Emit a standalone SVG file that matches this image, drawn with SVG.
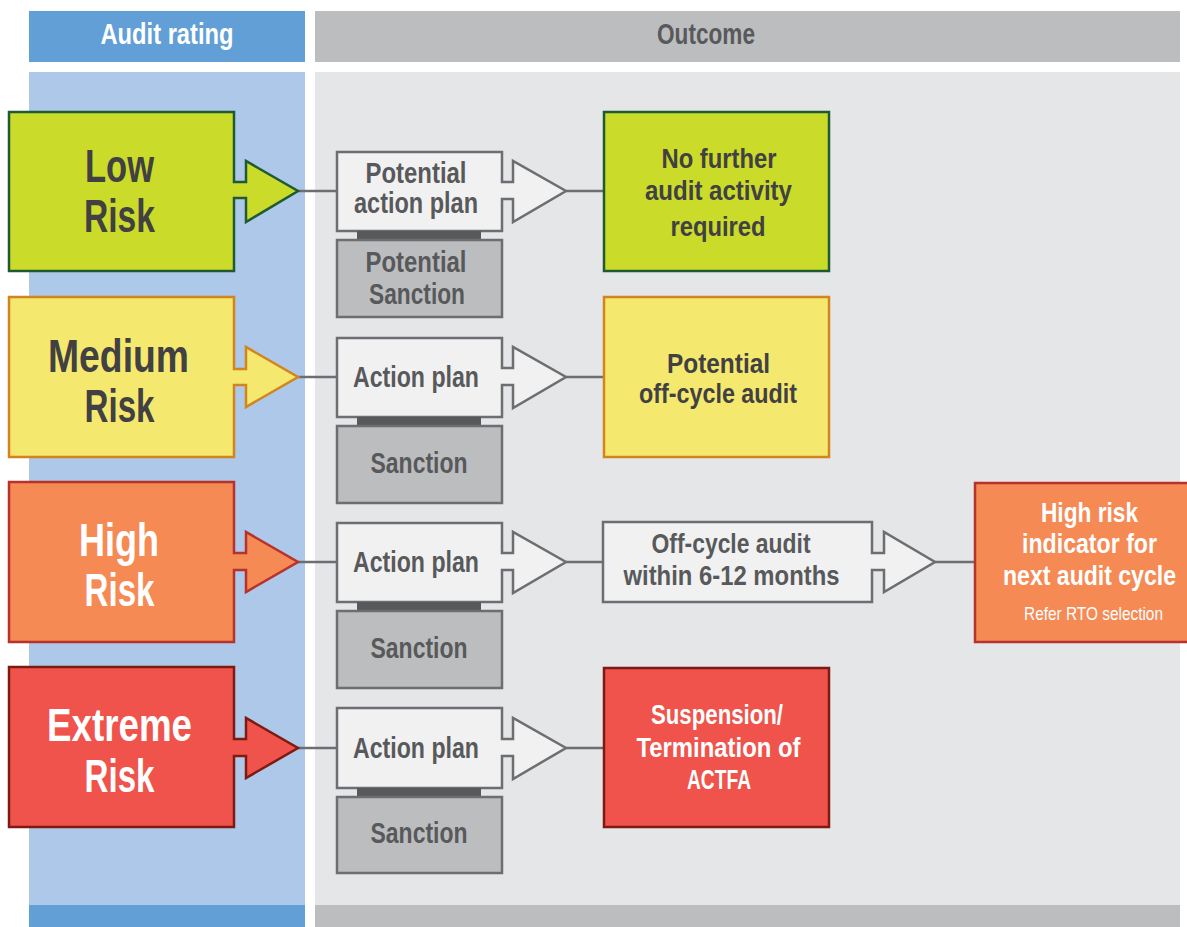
<svg xmlns="http://www.w3.org/2000/svg" width="1187" height="927" viewBox="0 0 1187 927">
<style>
text{font-family:"Liberation Sans",Arial,sans-serif;font-weight:bold;text-anchor:middle}
.big{font-size:47px}
.mid{font-size:30px;fill:#58595b}
.out{font-size:28px}
.dark{fill:#414042}
.white{fill:#ffffff}
.end{text-anchor:end}
.small{font-size:19px;font-weight:normal}
.box{fill:#f1f1f2;stroke:#6d6e71;stroke-width:2.5}
.sanc{fill:#bcbdbf;stroke:#6d6e71;stroke-width:2.5}
.bar{fill:#58595b}
.conn{stroke:#6d6e71;stroke-width:2.5;fill:none}
</style>
<rect x="0" y="0" width="1187" height="927" fill="#ffffff"/>
<g id="background">
<rect x="29" y="11" width="276" height="51" fill="#619fd6"/>
<rect x="315" y="11" width="865" height="51" fill="#bcbdbf"/>
<rect x="29" y="72" width="276" height="833" fill="#adc8e8"/>
<rect x="315" y="72" width="865" height="833" fill="#e5e6e8"/>
<rect x="29" y="905" width="276" height="22" fill="#619fd6"/>
<rect x="315" y="905" width="865" height="22" fill="#bcbdbf"/>
<text x="167" y="44" font-size="29" fill="#ffffff" textLength="133" lengthAdjust="spacingAndGlyphs">Audit rating</text>
<text x="706" y="44" font-size="29" fill="#58595b" textLength="98" lengthAdjust="spacingAndGlyphs">Outcome</text>
</g>
<g id="connectors">
<line class="conn" x1="298" y1="191" x2="337" y2="191"/>
<line class="conn" x1="566" y1="191" x2="603" y2="191"/>
<line class="conn" x1="298" y1="377" x2="337" y2="377"/>
<line class="conn" x1="566" y1="377" x2="603" y2="377"/>
<line class="conn" x1="298" y1="562" x2="337" y2="562"/>
<line class="conn" x1="566" y1="562" x2="603" y2="562"/>
<line class="conn" x1="935" y1="562" x2="975" y2="562"/>
<line class="conn" x1="298" y1="748" x2="337" y2="748"/>
<line class="conn" x1="566" y1="748" x2="603" y2="748"/>
</g>
<g id="low-risk">
<path d="M9,112 H234 V182 H246 V161 L298,191 L246,222 V198 H234 V271 H9 Z" fill="#cbdb2a" stroke="#1e5a32" stroke-width="2.5"/>
<text class="big dark" x="119.5" y="182" textLength="69" lengthAdjust="spacingAndGlyphs">Low</text>
<text class="big dark" x="119.5" y="232" textLength="71" lengthAdjust="spacingAndGlyphs">Risk</text>
</g>
<g id="medium-risk">
<path d="M9,297 H234 V369 H246 V347 L298,377 L246,407 V385 H234 V457 H9 Z" fill="#f4e96e" stroke="#d4841e" stroke-width="2.5"/>
<text class="big dark" x="118.5" y="372" textLength="141" lengthAdjust="spacingAndGlyphs">Medium</text>
<text class="big dark" x="119.5" y="422" textLength="70" lengthAdjust="spacingAndGlyphs">Risk</text>
</g>
<g id="high-risk">
<path d="M9,482 H234 V553 H246 V532 L298,562 L246,592 V570 H234 V642 H9 Z" fill="#f58a55" stroke="#b8312a" stroke-width="2.5"/>
<text class="big white" x="119" y="556" textLength="80" lengthAdjust="spacingAndGlyphs">High</text>
<text class="big white" x="119.5" y="606" textLength="70" lengthAdjust="spacingAndGlyphs">Risk</text>
</g>
<g id="extreme-risk">
<path d="M9,667 H234 V739 H246 V718 L298,748 L246,778 V756 H234 V827 H9 Z" fill="#ef534b" stroke="#7f1a12" stroke-width="2.5"/>
<text class="big white" x="119.5" y="741" textLength="145" lengthAdjust="spacingAndGlyphs">Extreme</text>
<text class="big white" x="119.5" y="792" textLength="70" lengthAdjust="spacingAndGlyphs">Risk</text>
</g>
<g id="low-action">
<path class="box" d="M337,152 H502 V182 H513 V161 L566,191 L513,222 V199 H502 V231 H337 Z"/>
<text class="mid" x="416" y="183" textLength="101" lengthAdjust="spacingAndGlyphs">Potential</text>
<text class="mid" x="416" y="213" textLength="124" lengthAdjust="spacingAndGlyphs">action plan</text>
</g>
<g id="low-sanction">
<rect class="bar" x="357" y="231" width="124" height="9"/>
<rect class="sanc" x="337" y="240" width="165" height="77"/>
<text class="mid" x="416" y="272" textLength="101" lengthAdjust="spacingAndGlyphs">Potential</text>
<text class="mid" x="417" y="304" textLength="96" lengthAdjust="spacingAndGlyphs">Sanction</text>
</g>
<g id="medium-action">
<path class="box" d="M337,338 H502 V368 H513 V347 L566,377 L513,408 V385 H502 V417 H337 Z"/>
<text class="mid" x="416" y="387" textLength="126" lengthAdjust="spacingAndGlyphs">Action plan</text>
</g>
<g id="medium-sanction">
<rect class="bar" x="357" y="417" width="124" height="9"/>
<rect class="sanc" x="337" y="426" width="165" height="77"/>
<text class="mid" x="419" y="473" textLength="97" lengthAdjust="spacingAndGlyphs">Sanction</text>
</g>
<g id="high-action">
<path class="box" d="M337,523 H502 V553 H513 V532 L566,562 L513,593 V570 H502 V602 H337 Z"/>
<text class="mid" x="416" y="572" textLength="126" lengthAdjust="spacingAndGlyphs">Action plan</text>
</g>
<g id="high-sanction">
<rect class="bar" x="357" y="602" width="124" height="9"/>
<rect class="sanc" x="337" y="611" width="165" height="77"/>
<text class="mid" x="419" y="658" textLength="97" lengthAdjust="spacingAndGlyphs">Sanction</text>
</g>
<g id="extreme-action">
<path class="box" d="M337,708 H502 V739 H513 V718 L566,748 L513,779 V756 H502 V788 H337 Z"/>
<text class="mid" x="416" y="758" textLength="126" lengthAdjust="spacingAndGlyphs">Action plan</text>
</g>
<g id="extreme-sanction">
<rect class="bar" x="357" y="788" width="124" height="9"/>
<rect class="sanc" x="337" y="797" width="165" height="76"/>
<text class="mid" x="419" y="843" textLength="97" lengthAdjust="spacingAndGlyphs">Sanction</text>
</g>
<g id="no-further">
<rect x="604" y="112" width="225" height="159" fill="#cbdb2a" stroke="#1e5a32" stroke-width="2.5"/>
<text class="out dark" x="719" y="168" font-size="29" textLength="115" lengthAdjust="spacingAndGlyphs">No further</text>
<text class="out dark" x="718.5" y="200" textLength="147" lengthAdjust="spacingAndGlyphs">audit activity</text>
<text class="out dark" x="718" y="236" textLength="95" lengthAdjust="spacingAndGlyphs">required</text>
</g>
<g id="potential-off-cycle">
<rect x="604" y="297" width="225" height="160" fill="#f4e96e" stroke="#d4841e" stroke-width="2.5"/>
<text class="out dark" x="718.5" y="373" textLength="103" lengthAdjust="spacingAndGlyphs">Potential</text>
<text class="out dark" x="718" y="403" textLength="158" lengthAdjust="spacingAndGlyphs">off-cycle audit</text>
</g>
<g id="off-cycle-6-12">
<path class="box" d="M603,522 H872 V553 H884 V532 L935,562 L884,592 V570 H872 V602 H603 Z"/>
<text class="out" fill="#58595b" x="731" y="553" textLength="159" lengthAdjust="spacingAndGlyphs">Off-cycle audit</text>
<text class="out" fill="#58595b" x="731.5" y="585" textLength="216" lengthAdjust="spacingAndGlyphs">within 6-12 months</text>
</g>
<g id="high-risk-indicator">
<rect x="975" y="483" width="214" height="159" fill="#f58a55" stroke="#b8312a" stroke-width="2.5"/>
<text class="out white end" x="1138" y="522" textLength="97" lengthAdjust="spacingAndGlyphs">High risk</text>
<text class="out white end" x="1157" y="553" textLength="135" lengthAdjust="spacingAndGlyphs">indicator for</text>
<text class="out white end" x="1176" y="585" textLength="173" lengthAdjust="spacingAndGlyphs">next audit cycle</text>
<text class="white small end" x="1163" y="620" textLength="139" lengthAdjust="spacingAndGlyphs">Refer RTO selection</text>
</g>
<g id="suspension">
<rect x="604" y="668" width="225" height="159" fill="#ef534b" stroke="#7f1a12" stroke-width="2.5"/>
<text class="out white" x="717" y="724" textLength="132" lengthAdjust="spacingAndGlyphs">Suspension/</text>
<text class="out white" x="718.5" y="757" textLength="164" lengthAdjust="spacingAndGlyphs">Termination of</text>
<text class="out white" x="719" y="789" textLength="64" lengthAdjust="spacingAndGlyphs">ACTFA</text>
</g>
</svg>
